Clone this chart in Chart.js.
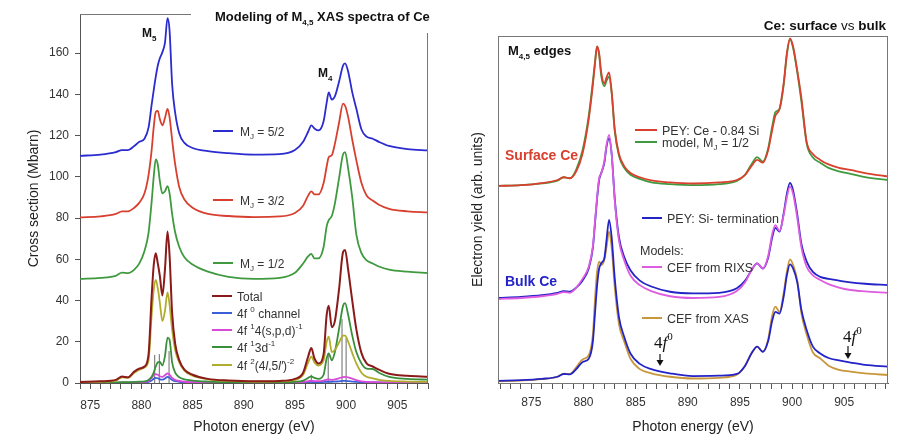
<!DOCTYPE html>
<html>
<head>
<meta charset="utf-8">
<script src="https://cdn.jsdelivr.net/npm/chart.js@4.4.0/dist/chart.umd.min.js"></script>
<style>
html, body { margin: 0; padding: 0; background: #fff; }
#wrap { position: relative; width: 900px; height: 446px; }
.panel { position: absolute; top: 0; width: 450px; height: 446px; }
</style>
</head>
<body>
<div id="wrap">
  <div class="panel" style="left:0"><canvas id="left" width="450" height="446"></canvas></div>
  <div class="panel" style="left:450px"><canvas id="right" width="450" height="446"></canvas></div>
</div>
<script>
// ---- left panel: modelled M4,5 spectra (Mbarn) ----
const eLeft = [874, 876, 877.5, 878.1, 878.7, 879.3, 879.8, 880.3, 880.7, 881.0,
  881.2, 881.4, 881.6, 881.8, 882.05, 882.3, 882.55, 882.75, 883.0, 883.3,
  883.7, 884.2, 885, 886.5, 888.5, 891, 893.5, 895, 895.8, 896.3,
  896.6, 896.9, 897.3, 897.8, 898.1, 898.3, 898.6, 898.9, 899.3, 899.7,
  899.9, 900.2, 900.6, 901.0, 901.5, 902.0, 902.6, 903.2, 904.2, 906, 908];

const mj52 = [110.2, 110.8, 112, 113, 113, 115, 117, 118.5, 124, 135,
  142, 148.5, 154, 157.5, 160.5, 165, 177, 171, 145, 131,
  121, 116.5, 114, 112.5, 111.5, 110.8, 111, 113, 117, 122,
  125, 123.5, 122.5, 127, 136, 141, 137.5, 139, 146, 154,
  155, 151, 141, 133, 123, 119.5, 118.5, 117, 115, 113.5, 112.8];

const mj32 = [80.3, 80.8, 82, 83.3, 83.3, 85, 87.5, 92, 101, 113,
  124, 131.5, 132, 128, 125, 128.5, 133, 129, 118, 106,
  95, 89, 85, 82, 81, 80.5, 80.8, 82.5, 86, 91,
  93, 91.5, 91.5, 97, 105, 109.5, 110.5, 116, 126, 135.5,
  134.5, 129, 118, 108, 97, 91, 88.5, 86.5, 84.5, 83.3, 82.8];

const mj12 = [50.5, 51, 52, 53.5, 53.3, 55, 58, 64, 73, 88,
  100, 108.5, 106, 98, 92, 93, 95.5, 92, 82, 73,
  66, 61, 57.5, 54, 51.5, 50.5, 51, 53.5, 58, 61.5,
  62.6, 60.5, 60.5, 66, 76, 79, 81, 87, 99, 111,
  112, 104, 90, 72, 63, 59.5, 58, 56.5, 55, 54, 53.3];

const total = [0.5, 0.8, 1.5, 3.1, 2.8, 5.5, 7, 8, 14, 42,
  57, 63, 58, 52, 42.5, 55, 73.5, 62, 34, 19,
  11, 6.5, 4, 2, 1.2, 0.8, 1, 2, 5, 13,
  17, 12, 9.5, 14, 33, 37.5, 27, 30, 45, 63.5,
  64.5, 55, 40, 26, 14.5, 9.5, 8, 6.5, 4.5, 3.5, 3];

const f0chan = [0.1, 0.1, 0.1, 0.15, 0.15, 0.2, 0.2, 0.3, 0.6, 1.2,
  2, 2.5, 2.3, 1.8, 1.6, 2.2, 3, 2.6, 1.5, 0.9,
  0.6, 0.4, 0.3, 0.25, 0.2, 0.2, 0.2, 0.2, 0.3, 0.4,
  0.5, 0.4, 0.4, 0.5, 0.6, 0.6, 0.6, 0.7, 0.8, 1,
  1, 0.9, 0.7, 0.5, 0.4, 0.3, 0.3, 0.25, 0.2, 0.2, 0.2];

const f1spd = [0.1, 0.1, 0.15, 0.2, 0.2, 0.25, 0.3, 0.5, 1, 2.5,
  3.8, 4.3, 4, 3.3, 3, 3.8, 4.6, 4, 2.5, 1.5,
  1, 0.6, 0.4, 0.3, 0.25, 0.2, 0.2, 0.3, 0.5, 0.9,
  1.1, 0.9, 0.9, 1.2, 1.6, 1.7, 1.5, 1.8, 2.3, 2.9,
  3, 2.7, 2.1, 1.4, 0.8, 0.5, 0.4, 0.3, 0.25, 0.2, 0.2];

const f13d = [0.2, 0.2, 0.3, 0.4, 0.4, 0.5, 0.6, 0.8, 1.5, 3,
  5, 8, 10, 10.2, 8.5, 13, 22, 21, 10, 5,
  2.8, 1.8, 1.2, 0.7, 0.4, 0.3, 0.4, 0.6, 1.2, 2.5,
  3.2, 2.5, 2, 4, 12, 14.4, 11, 15, 26, 37.5,
  38.7, 33, 23, 15, 9.5, 7, 6.8, 5, 3, 2, 1.6];

const f2 = [0.3, 0.6, 1.2, 2.8, 2.5, 5, 6.5, 7.5, 11, 33,
  45, 50, 46, 39, 30, 35, 44, 38, 26, 16,
  10, 6, 3.5, 1.8, 1, 0.6, 0.8, 1.5, 4, 10,
  12.8, 10, 8.5, 11, 20, 22.5, 15, 16, 19.5, 23,
  23, 20, 14.5, 9.5, 5, 3, 2.3, 1.5, 1, 0.7, 0.5];

// multiplet stick lines
const stickE = [881.3, 881.75, 882.7, 896.6, 898.25, 899.6, 900.0];
const stickH = [13.6, 14, 15.5, 4, 14.5, 31, 22];

const yTicksLeft = [0, 20, 40, 60, 80, 100, 120, 140, 160];

// ---- right panel: measured vs model (arb. units) ----
const eRight = [871.8, 874, 876, 877.5, 878.1, 878.7, 879.3, 879.9, 880.5, 880.9,
  881.1, 881.3, 881.5, 881.7, 882.0, 882.2, 882.45, 882.7, 883.0, 883.4,
  883.9, 884.5, 885.4, 886.5, 888.3, 890.5, 893, 894.7, 895.5, 896.1,
  896.65, 897.2, 897.7, 898.1, 898.4, 898.8, 899.2, 899.5, 899.8, 900.1,
  900.5, 900.9, 901.4, 902.0, 902.7, 903.5, 904.5, 905.6, 907, 909.2];

const surfPey = [56.8, 57, 57.6, 58.5, 59.3, 59, 61, 66, 76, 86,
  92, 97, 95, 89.5, 86.3, 88, 89.5, 84, 73, 66,
  62.5, 60.5, 59.3, 58.4, 57.8, 57.5, 57.8, 58.5, 60, 62.5,
  64.3, 63.5, 67, 73, 77, 79, 86.5, 95, 99.3, 97,
  90, 82, 69.5, 66, 64.3, 63, 62, 61.4, 60.5, 59.5];

const surfModel = [56.8, 57, 57.5, 58.3, 59.3, 59, 61.5, 67, 77, 87,
  92.5, 97, 94.5, 88.5, 85.5, 87, 88.3, 83.5, 72.5, 65.5,
  62, 60, 58.8, 57.8, 57.3, 57, 57.3, 58.2, 60, 63,
  65.1, 63.8, 67.5, 74, 78, 79, 86, 94.5, 99, 96.5,
  89.5, 81, 69, 65, 63.5, 62, 61, 60.3, 59.3, 58.5];

const siPey = [24.5, 24.8, 25.3, 26, 26.5, 26.3, 27.5, 29.5, 33, 39,
  46, 53, 58.5, 60.5, 63.5, 68, 70.5, 66, 53, 42,
  36.4, 32.5, 29.5, 27.8, 26.3, 25.8, 26, 27.3, 29.5, 32.5,
  34.5, 33, 36, 42, 44.7, 43.6, 49, 54.5, 57.7, 55.5,
  48.5, 40, 35, 32, 30.6, 30, 29.5, 29, 28.6, 28.2];

const cefRixs = [24.2, 24.5, 25, 25.7, 26.2, 26, 27.5, 30, 33.5, 39.5,
  46.5, 53.5, 59, 60.4, 64, 68.5, 71.5, 66, 52.5, 41,
  35.4, 31, 28.2, 26.5, 25, 24.5, 24.8, 26.5, 29, 32.5,
  34.5, 33, 36.5, 43, 45.5, 43.8, 48.5, 53.5, 56.6, 54.5,
  47.5, 39, 33.5, 31, 29.7, 28.5, 27.5, 26.8, 26.4, 26];

const siPeyLow = [0.6, 0.8, 1.2, 1.8, 2.6, 2.5, 4, 6, 7, 12,
  20, 28, 33, 34.5, 36, 41, 47, 42, 30, 19,
  13.3, 8.5, 5.5, 4, 2.8, 2, 2.1, 2.6, 5, 8.5,
  10.5, 9, 12, 18, 20.5, 20, 25, 31, 34.2, 33,
  29, 21, 15.3, 10.5, 8.5, 7.2, 6.5, 5.9, 5.2, 4.7];

const cefXas = [0.5, 0.7, 1.1, 1.8, 2.7, 2.6, 4.5, 6.8, 8, 14,
  24, 32, 35, 34, 35.5, 39, 43.6, 39, 27.5, 17,
  12, 7, 4, 2.8, 1.8, 1.3, 1.5, 2.4, 5, 8.5,
  10.5, 9, 12.5, 19.5, 22, 20.5, 26, 32, 35.6, 34,
  29.5, 20, 14, 8.8, 7.1, 5, 3.8, 3.3, 2.8, 2.3];

const xLabels = [875, 880, 885, 890, 895, 900, 905];

const FONT = 'Liberation Sans, Arial, sans-serif';

function line(xs, ys, color, w) {
  return {
    data: xs.map((x, i) => ({ x: x, y: ys[i] })),
    borderColor: color, borderWidth: w || 1.8,
    pointRadius: 0, fill: false, cubicInterpolationMode: 'monotone'
  };
}

// text with _{sub} ^{sup} ~{italic} !{normal weight}
function rich(ctx, str, x, y, opt) {
  const size = opt.size || 12, family = opt.family || FONT;
  const re = /([_^~!])\{([^}]*)\}|([^_^~!]+)/g;
  const parts = [];
  let m;
  while ((m = re.exec(str))) parts.push(m[3] !== undefined ? { t: m[3], k: '' } : { t: m[2], k: m[1] });
  const fontFor = p => {
    const small = p.k === '_' || p.k === '^';
    const s = small ? Math.round(size * 0.64) : size;
    const w = p.k === '!' ? 'normal' : (opt.bold ? 'bold' : 'normal');
    const it = (p.k === '~' || opt.italic) ? 'italic ' : '';
    return it + w + ' ' + s + 'px ' + family;
  };
  let width = 0;
  parts.forEach(p => { ctx.font = fontFor(p); width += ctx.measureText(p.t).width; });
  let cx = opt.align === 'right' ? x - width : x;
  ctx.fillStyle = opt.color || '#222';
  ctx.textAlign = 'left';
  ctx.textBaseline = 'alphabetic';
  parts.forEach(p => {
    ctx.font = fontFor(p);
    const dy = p.k === '_' ? size * 0.3 : p.k === '^' ? -size * 0.45 : 0;
    ctx.fillText(p.t, cx, y + dy);
    cx += ctx.measureText(p.t).width;
  });
}

function seg(ctx, x1, x2, y, color, w) {
  ctx.strokeStyle = color; ctx.lineWidth = w || 2;
  ctx.beginPath(); ctx.moveTo(x1, y); ctx.lineTo(x2, y); ctx.stroke();
}

function arrow(ctx, x, y1, y2) {
  ctx.strokeStyle = '#111'; ctx.fillStyle = '#111'; ctx.lineWidth = 1.2;
  ctx.beginPath(); ctx.moveTo(x, y1); ctx.lineTo(x, y2 - 5); ctx.stroke();
  ctx.beginPath(); ctx.moveTo(x - 3.5, y2 - 6); ctx.lineTo(x + 3.5, y2 - 6); ctx.lineTo(x, y2); ctx.closePath(); ctx.fill();
}

function xAxis(min, max, labelPad) {
  return {
    type: 'linear', min: min, max: max, offset: false,
    afterFit: s => { s.height = 63; },
    border: { display: true, color: '#555', width: 1 },
    grid: { drawOnChartArea: false, drawTicks: true, tickLength: 6, color: '#555' },
    ticks: {
      stepSize: 1, includeBounds: false, autoSkip: false, maxRotation: 0, padding: labelPad,
      color: '#333', font: { family: FONT, size: 12 },
      callback: v => xLabels.includes(v) ? String(v) : ''
    },
    title: { display: true, text: 'Photon energy (eV)', color: '#222', font: { family: FONT, size: 14 }, padding: { top: 0, bottom: 10 } }
  };
}

const leftDecor = {
  id: 'leftDecor',
  afterDraw(chart) {
    const ctx = chart.ctx, a = chart.chartArea;
    ctx.save();
    // partial top and right frame
    ctx.strokeStyle = '#777'; ctx.lineWidth = 1;
    ctx.beginPath(); ctx.moveTo(a.left, a.top + 0.5); ctx.lineTo(191, a.top + 0.5); ctx.stroke();
    ctx.beginPath(); ctx.moveTo(a.right - 0.5, 33); ctx.lineTo(a.right - 0.5, a.bottom); ctx.stroke();

    rich(ctx, 'Modeling of M_{4,5} XAS spectra of Ce', 215, 21, { bold: true, size: 13, color: '#111' });
    rich(ctx, 'M_{5}', 142, 37, { bold: true, size: 12, color: '#111' });
    rich(ctx, 'M_{4}', 318, 77, { bold: true, size: 12, color: '#111' });

    const mj = [['M_{J} = 5/2', 131, '#2b2bd0'], ['M_{J} = 3/2', 200, '#d7402f'], ['M_{J} = 1/2', 263, '#3f9a3f']];
    mj.forEach(r => { seg(ctx, 213, 233, r[1], r[2], 2); rich(ctx, r[0], 240, r[1] + 4.5, { size: 12, color: '#333' }); });

    const leg = [['Total', 296, '#8b1a1a'], ['4f ^{0} channel', 313, '#3b5fd9'],
      ['4f ^{1}4(s,p,d)^{-1}', 330, '#d84bd8'], ['4f ^{1}3d^{-1}', 347, '#3a8f3a'],
      ['4f ^{2}(4~{l},5~{l′})^{-2}', 365, '#b1ad2c']];
    leg.forEach(r => { seg(ctx, 212, 232, r[1], r[2], 2); rich(ctx, r[0], 237, r[1] + 4.5, { size: 12, color: '#333' }); });
    ctx.restore();
  }
};

const rightDecor = {
  id: 'rightDecor',
  afterDraw(chart) {
    const ctx = chart.ctx, a = chart.chartArea;
    ctx.save();
    ctx.strokeStyle = '#777'; ctx.lineWidth = 1;
    ctx.strokeRect(a.left + 0.5, a.top + 0.5, a.right - a.left - 1, a.bottom - a.top);

    rich(ctx, 'Ce: surface !{vs} bulk', 436, 30, { bold: true, size: 13.5, color: '#111', align: 'right' });
    rich(ctx, 'M_{4,5} edges', 58, 55, { bold: true, size: 13, color: '#111' });
    rich(ctx, 'Surface Ce', 55, 160, { bold: true, size: 14, color: '#d9412e' });
    rich(ctx, 'Bulk Ce', 55, 286, { bold: true, size: 14, color: '#2323c8' });

    seg(ctx, 185, 207, 130, '#d9412e', 2);
    rich(ctx, 'PEY: Ce - 0.84 Si', 212, 134.5, { size: 12.5, color: '#333' });
    seg(ctx, 185, 207, 142, '#3f9a3f', 2);
    rich(ctx, 'model, M_{J} = 1/2', 212, 146.5, { size: 12.5, color: '#333' });
    seg(ctx, 192, 212, 218, '#2323c8', 2);
    rich(ctx, 'PEY: Si- termination', 217, 222.5, { size: 12.5, color: '#333' });
    rich(ctx, 'Models:', 190, 254.5, { size: 12.5, color: '#333' });
    seg(ctx, 192, 212, 267, '#de5ce0', 2);
    rich(ctx, 'CEF from RIXS', 217, 271.5, { size: 12.5, color: '#333' });
    seg(ctx, 192, 212, 318, '#c9973b', 2);
    rich(ctx, 'CEF from XAS', 217, 322.5, { size: 12.5, color: '#333' });

    const serif = 'Liberation Serif, Times New Roman, serif';
    rich(ctx, '4~{f}^{0}', 204, 348, { size: 17, family: serif, color: '#111' });
    arrow(ctx, 210, 354, 366);
    rich(ctx, '4~{f}^{0}', 393, 342, { size: 17, family: serif, color: '#111' });
    arrow(ctx, 398, 346, 359);
    ctx.restore();
  }
};

const sticks = {
  data: stickE.flatMap((e, i) => [{ x: e, y: 0 }, { x: e, y: stickH[i] }, { x: e, y: null }]),
  borderColor: '#6a6a6a', borderWidth: 1, pointRadius: 0, fill: false, tension: 0, spanGaps: false
};

new Chart(document.getElementById('left'), {
  type: 'line',
  data: {
    datasets: [
      line(eLeft, total, '#8b1a1a', 2),
      line(eLeft, f2, '#b1ad2c'),
      line(eLeft, f13d, '#3a8f3a'),
      line(eLeft, f1spd, '#d84bd8'),
      line(eLeft, f0chan, '#3b5fd9'),
      sticks,
      line(eLeft, mj12, '#3f9a3f'),
      line(eLeft, mj32, '#d7402f'),
      line(eLeft, mj52, '#2b2bd0')
    ]
  },
  options: {
    responsive: false, animation: false,
    layout: { padding: { left: 0, right: 22, top: 14, bottom: 0 } },
    plugins: { legend: { display: false }, tooltip: { enabled: false } },
    scales: {
      x: xAxis(874, 908, 9),
      y: {
        type: 'linear', min: 0, max: 179,
        afterFit: s => { s.width = 80; },
        afterBuildTicks: s => { s.ticks = yTicksLeft.map(v => ({ value: v })); },
        border: { display: true, color: '#555', width: 1 },
        grid: { drawOnChartArea: false, drawTicks: true, tickLength: 5, color: '#555' },
        ticks: { color: '#333', padding: 6, font: { family: FONT, size: 12 } },
        title: { display: true, text: 'Cross section (Mbarn)', color: '#222', font: { family: FONT, size: 14 }, padding: { top: 26, bottom: 0 } }
      }
    }
  },
  plugins: [leftDecor]
});

new Chart(document.getElementById('right'), {
  type: 'line',
  data: {
    datasets: [
      line(eRight, surfPey, '#d9412e'),
      line(eRight, surfModel, '#3f9a3f'),
      line(eRight, cefRixs, '#de5ce0'),
      line(eRight, siPey, '#2323c8'),
      line(eRight, siPeyLow, '#2323c8'),
      line(eRight, cefXas, '#c9973b')
    ]
  },
  options: {
    responsive: false, animation: false,
    layout: { padding: { left: 0, right: 12, top: 36, bottom: 0 } },
    plugins: { legend: { display: false }, tooltip: { enabled: false } },
    scales: {
      x: xAxis(871.8, 909.2, 6),
      y: {
        type: 'linear', min: 0, max: 100,
        afterFit: s => { s.width = 48; },
        border: { display: false },
        grid: { display: false },
        ticks: { display: false },
        title: { display: true, text: 'Electron yield (arb. units)', color: '#222', font: { family: FONT, size: 14 }, padding: { top: 20, bottom: 0 } }
      }
    }
  },
  plugins: [rightDecor]
});
</script>
</body>
</html>
